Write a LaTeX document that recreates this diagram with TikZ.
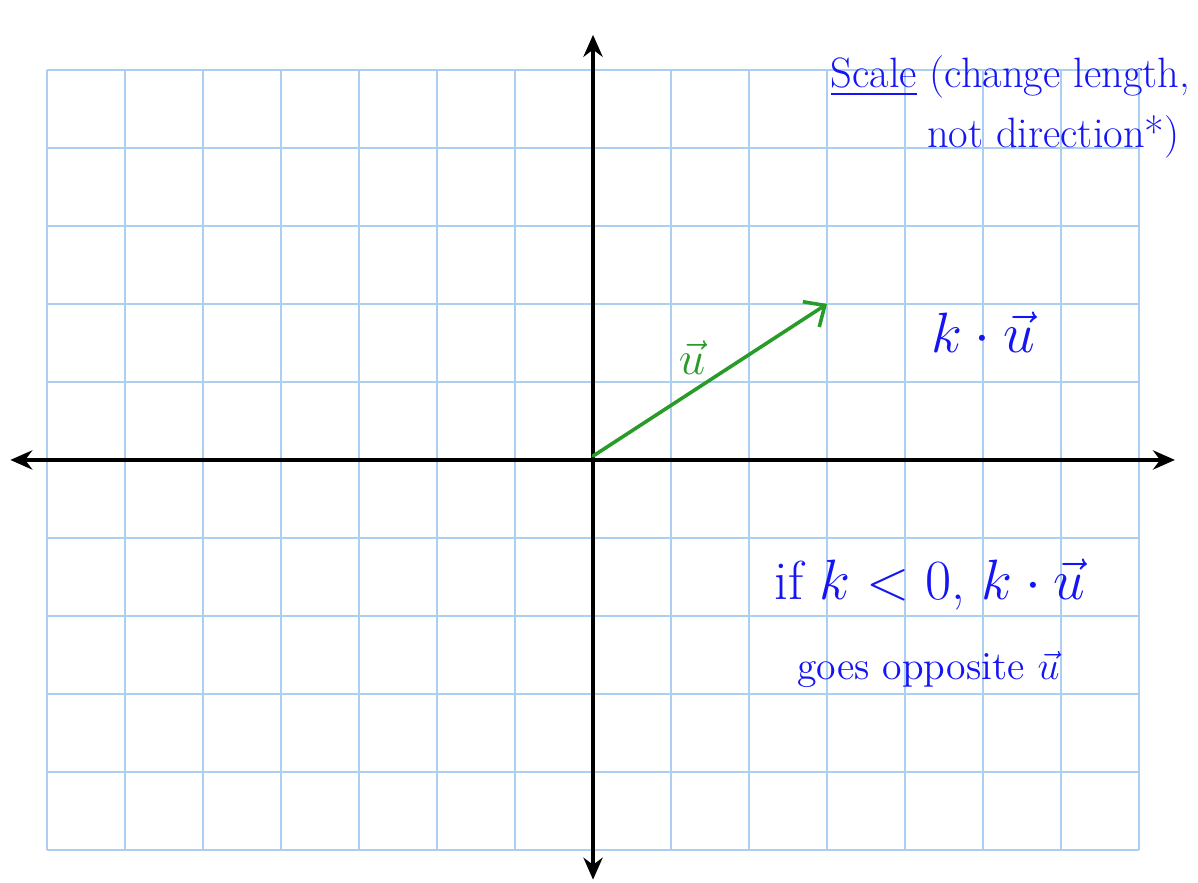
\documentclass[tikz,border=0pt]{standalone}
\usepackage{amsmath}
\usepackage{xcolor}
\usepackage{tikz}
\usetikzlibrary{arrows.meta, positioning}

\definecolor{gridblue}{RGB}{172,206,240}
\definecolor{penblue}{RGB}{20,20,245}
\definecolor{pengreen}{RGB}{40,155,40}

\begin{document}
\begin{tikzpicture}[
      grid_style/.style={gridblue, line width=0.75pt},
      axis_style/.style={black, line width=1.5pt, {Stealth[length=8pt, width=7pt]}-{Stealth[length=8pt, width=7pt]}},
      blue_lbl/.style={penblue, anchor=base, inner sep=0pt},
      green_style/.style={pengreen, line width=1.3pt, line cap=round}
  ]

  % 1. Area del disegno
  \useasboundingbox (-7.603, -5.423) rectangle (7.756, 5.897);

  % 2. Quadrettatura
  \draw[grid_style] (-7, -5) grid (7, 5);

  % 3. Assi
  \coordinate (xl) at (-7.47, 0);
  \coordinate (xr) at (7.46, 0);
  \coordinate (yb) at (0, -5.38);
  \coordinate (yt) at (0, 5.45);
  \draw[axis_style] (xl) -- (xr);
  \draw[axis_style] (yb) -- (yt);

  % 4. Vettore u
  \coordinate (O) at (0, 0.05);
  \coordinate (U) at (3, 2);
  \draw[green_style, -{Straight Barb[length=6pt, width=11pt, line width=1.3pt]}] (O) -- (U);
  \node[pengreen, anchor=base, inner sep=0pt, font=\fontsize{17}{20}\selectfont] (ulbl) at (1.27, 1.1) {$\vec{u}$};

  % 5. Scritte
  \node[blue_lbl, font=\fontsize{15.5}{18}\selectfont] (scale) at (5.35, 4.77) {\underline{Scale} (change length,};
  \node[blue_lbl, font=\fontsize{15.5}{18}\selectfont] (notdir) at (5.9, 4.0) {not direction*)};
  \node[blue_lbl, font=\fontsize{21}{24}\selectfont] (ku) at (5.0, 1.38) {$k\cdot\vec{u}$};
  \node[blue_lbl, font=\fontsize{20}{24}\selectfont] (neg) at (4.32, -1.79) {if $k<0$, $k\cdot\vec{u}$};
  \node[blue_lbl, font=\fontsize{14.5}{18}\selectfont] (opp) at (4.3, -2.82) {goes opposite $\vec{u}$};

  \end{tikzpicture}
\end{document}
